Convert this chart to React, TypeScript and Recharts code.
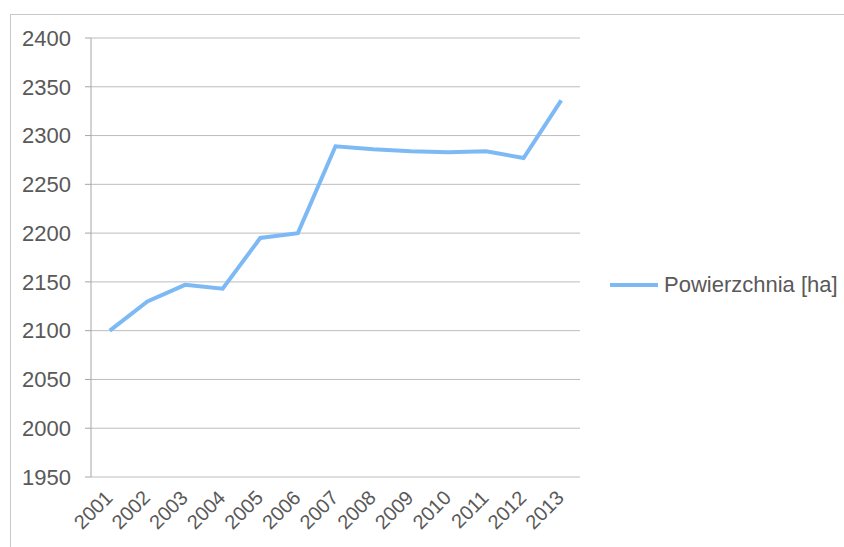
import React from 'react';
import { LineChart, Line, XAxis, YAxis, CartesianGrid, Legend } from 'recharts';

const years = ['2001', '2002', '2003', '2004', '2005', '2006', '2007', '2008', '2009', '2010', '2011', '2012', '2013'];
const area = [2100, 2130, 2147, 2143, 2195, 2200, 2289, 2286, 2284, 2283, 2284, 2277, 2336];
const yTicks = [1950, 2000, 2050, 2100, 2150, 2200, 2250, 2300, 2350, 2400];
const seriesName = 'Powierzchnia [ha]';

const data = years.map((year, i) => ({ year, area: area[i] }));
// boundaries between categories, for the small tick marks (Excel style)
const boundaries = [...years.map((_, i) => i), years.length];

const FONT = '"Liberation Sans", Arial, sans-serif';
const TEXT = '#595959';
const LINE = '#7dbaf5';
const LEGEND_W = 240;

const YearTick = (props: any) => {
  const { x, y, payload } = props;
  return (
    <text
      x={x + 4}
      y={y + 14}
      transform={`rotate(-45 ${x + 4} ${y + 14})`}
      textAnchor="end"
      fill={TEXT}
      fontSize={20}
      fontFamily={FONT}
    >
      {payload.value}
    </text>
  );
};

const LegendContent = () => (
  <div style={{ display: 'flex', alignItems: 'center', fontFamily: FONT, fontSize: 22, color: TEXT }}>
    <svg width={48} height={10} style={{ marginRight: 6 }}>
      <line x1={0} y1={5} x2={48} y2={5} stroke={LINE} strokeWidth={4} />
    </svg>
    <span>{seriesName}</span>
  </div>
);

export default function App() {
  return (
    <div style={{ position: 'absolute', left: 0, top: 0, width: 844, height: 547, background: '#fff', overflow: 'hidden' }}>
      {/* outer chart frame, only top and left edges are in view */}
      <div
        style={{
          position: 'absolute',
          left: 10,
          top: 14,
          width: 900,
          height: 600,
          borderTop: '1px solid #c8c8c8',
          borderLeft: '1px solid #c8c8c8',
        }}
      />
      <LineChart width={844} height={547} data={data} margin={{ top: 38, right: 264 - LEGEND_W, bottom: 0, left: 10 }}>
        <CartesianGrid vertical={false} stroke="#bdbdbd" />
        <XAxis
          xAxisId={0}
          type="number"
          dataKey={() => 0}
          domain={[0, years.length]}
          ticks={boundaries}
          tick={false}
          tickSize={6}
          height={0}
          stroke="#a6a6a6"
          allowDataOverflow
        />
        <XAxis
          xAxisId="cat"
          dataKey="year"
          scale="band"
          interval={0}
          height={70}
          axisLine={false}
          tickLine={false}
          tick={<YearTick />}
        />
        <YAxis
          domain={[1950, 2400]}
          ticks={yTicks}
          width={81}
          tickSize={6}
          tickMargin={14}
          stroke="#a6a6a6"
          tick={{ fill: TEXT, fontSize: 22, fontFamily: FONT }}
        />
        <Legend
          layout="horizontal"
          verticalAlign="middle"
          align="right"
          content={<LegendContent />}
          wrapperStyle={{ left: 610, top: 272, width: LEGEND_W }}
        />
        <Line
          xAxisId="cat"
          type="linear"
          dataKey="area"
          name={seriesName}
          stroke={LINE}
          strokeWidth={4}
          dot={false}
          isAnimationActive={false}
        />
      </LineChart>
    </div>
  );
}
